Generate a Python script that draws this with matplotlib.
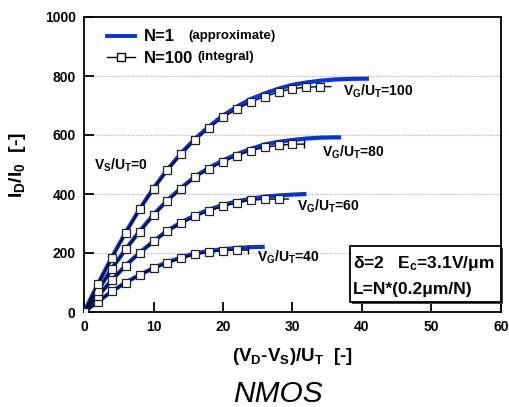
import matplotlib
matplotlib.use("Agg")
import matplotlib.pyplot as plt
from matplotlib.lines import Line2D
from matplotlib.patches import Rectangle
import matplotlib.patheffects as pe

plt.rcParams['font.family'] = ['Liberation Sans', 'DejaVu Sans']
plt.rcParams['font.weight'] = 'bold'
plt.rcParams['mathtext.default'] = 'regular'

# ---- data: N=100 (integral), markers every 2 units ----
int_x40 = [0, 2, 4, 6, 8, 10, 12, 14, 16, 18, 20, 22, 23.6]
int_y40 = [0, 34, 70, 99, 125, 148, 167, 183, 195, 203, 208, 210, 210]
int_x60 = [0, 2, 4, 6, 8, 10, 12, 14, 16, 18, 20, 22, 24, 26, 28, 29.4]
int_y60 = [0, 54, 107, 157, 200, 239, 274, 301, 324, 343, 359, 370, 379, 382, 383, 383]
int_x80 = [0, 2, 4, 6, 8, 10, 12, 14, 16, 18, 20, 22, 24, 26, 28, 30, 31.6]
int_y80 = [0, 72, 146, 212, 272, 328, 377, 418, 457, 485, 509, 529, 547, 558, 565, 569, 569]
int_x100 = [0, 2, 4, 6, 8, 10, 12, 14, 16, 18, 20, 22, 24, 26, 28, 30, 32, 34, 35.5]
int_y100 = [0, 94, 184, 269, 348, 418, 481, 536, 583, 623, 660, 687, 712, 730, 746, 757, 762, 764, 764]

# ---- data: N=1 (approximate) ----
apx_x40 = [0, 2, 4, 6, 8, 10, 12, 14, 16, 18, 20, 22, 24, 26]
apx_y40 = [0, 35, 70, 100, 126, 149, 169, 185, 199, 207, 213, 217, 220, 221]
apx_x60 = [0, 2, 4, 6, 8, 10, 12, 14, 16, 18, 20, 22, 24, 26, 28, 30, 32]
apx_y60 = [0, 54, 108, 158, 201, 240, 276, 304, 328, 347, 363, 375, 384, 391, 395, 398, 400]
apx_x80 = [0, 2, 4, 6, 8, 10, 12, 14, 16, 18, 20, 22, 24, 26, 28, 30, 32, 34, 36, 37]
apx_y80 = [0, 73, 147, 213, 274, 330, 379, 421, 460, 489, 514, 535, 553, 568, 577, 583, 588, 591, 592, 592]
apx_x100 = [0, 2, 4, 6, 8, 10, 12, 14, 16, 18, 20, 22, 24, 26, 28, 30, 32, 34, 36, 38, 40, 41]
apx_y100 = [0, 95, 185, 270, 349, 420, 483, 539, 588, 629, 666, 696, 722, 741, 757, 770, 778, 784, 788, 790, 791, 791]

curve_labels = ['V$_G$/U$_T$=40', 'V$_G$/U$_T$=60', 'V$_G$/U$_T$=80', 'V$_G$/U$_T$=100']
label_pos = [(24.9, 184), (30.6, 358), (34.2, 543), (37.3, 747)]
end_bar = [True, False, True, False]

xticks = [0, 10, 20, 30, 40, 50, 60]
yticks = [0, 200, 400, 600, 800, 1000]

BLUE = '#0b35c8'
GRID = '#a4a4ff'

fig = plt.figure(figsize=(5.10, 4.07), dpi=100)
ax = fig.add_axes([84/510, 1-312/407, (501-84)/510, (312-17)/407])

apx = [(apx_x40, apx_y40), (apx_x60, apx_y60), (apx_x80, apx_y80), (apx_x100, apx_y100)]
ints = [(int_x40, int_y40), (int_x60, int_y60), (int_x80, int_y80), (int_x100, int_y100)]

for (xa, ya) in apx:
    ax.plot(xa, ya, color=BLUE, lw=3.0, solid_capstyle='butt', zorder=3)
for (xi, yi), bar in zip(ints, end_bar):
    ax.plot(xi, yi, color='black', lw=1.0, marker='s', markersize=5.4,
            markerfacecolor='white', markeredgecolor='#222222', markeredgewidth=0.9,
            markevery=list(range(len(xi)-1)), zorder=4)
    if bar:
        ax.plot(xi[-1:], yi[-1:], marker='|', markersize=6, color='black', mew=1.0, zorder=4)

for lab, (lx, ly) in zip(curve_labels, label_pos):
    ax.text(lx, ly, lab, fontsize=10, fontweight='bold', ha='left', va='center', zorder=6)

ax.text(1.5, 498, 'V$_S$/U$_T$=0', fontsize=10, fontweight='bold', ha='left', va='center')

ax.set_xlim(0, 60)
ax.set_ylim(0, 1000)
ax.set_xticks(xticks)
ax.set_yticks(yticks)
ax.tick_params(direction='in', length=7, width=1.3, labelsize=10, pad=6,
               top=False, right=False)
for t in ax.get_xticklabels() + ax.get_yticklabels():
    t.set_fontweight('bold')
for s in ax.spines.values():
    s.set_linewidth(1.3)

for gy in [200, 400, 600, 800]:
    ax.axhline(gy, color=GRID, lw=0.8, ls=(0, (1, 1.3)), zorder=1)

ax.set_xlabel('(V$_D$-V$_S$)/U$_T$  [-]', fontsize=13.5, fontweight='bold')
ax.xaxis.set_label_coords(0.5, -0.115)
ax.xaxis.label.set_va('top')
ax.set_ylabel('I$_D$/I$_0$  [-]', fontsize=14, fontweight='bold')
ax.yaxis.set_label_coords(-0.135, 0.5)

# legend
h1 = Line2D([], [], color=BLUE, lw=2.8)
h2 = Line2D([], [], color='black', lw=1.0, marker='s', markersize=6,
            markerfacecolor='white', markeredgecolor='black')
leg = ax.legend([h1, h2], ['N=1', 'N=100'], loc='upper left',
                bbox_to_anchor=(0.055, 0.958), frameon=False,
                prop={'family': 'Liberation Sans', 'weight': 'bold', 'size': 12},
                handlelength=1.7, handletextpad=0.5, labelspacing=0.38,
                borderpad=0, borderaxespad=0)
ax.text(0.250, 0.937, '(approximate)', transform=ax.transAxes, fontsize=9.5,
        fontweight='bold', va='center', ha='left')
ax.text(0.273, 0.865, '(integral)', transform=ax.transAxes, fontsize=9.5,
        fontweight='bold', va='center', ha='left')

# parameter box
rect = Rectangle((38.3, 34), 21.7, 190, facecolor='white', edgecolor='black',
                 lw=1.3, zorder=7, clip_on=False,
                 path_effects=[pe.SimplePatchShadow(offset=(1.5, -1.5), shadow_rgbFace='#444444', alpha=1.0),
                               pe.Normal()])
ax.add_patch(rect)
ax.text(38.7, 165, 'δ=2   E$_c$=3.1V/μm', fontsize=12.5, fontweight='bold',
        ha='left', va='center', zorder=8)
ax.text(38.7, 76, 'L=N*(0.2μm/N)', fontsize=12.5, fontweight='bold',
        ha='left', va='center', zorder=8)

fig.text(278/510, 5/407, 'NMOS', fontsize=21.5, style='italic', fontweight='normal',
         ha='center', va='baseline')

fig.savefig('out.png', dpi=100)
